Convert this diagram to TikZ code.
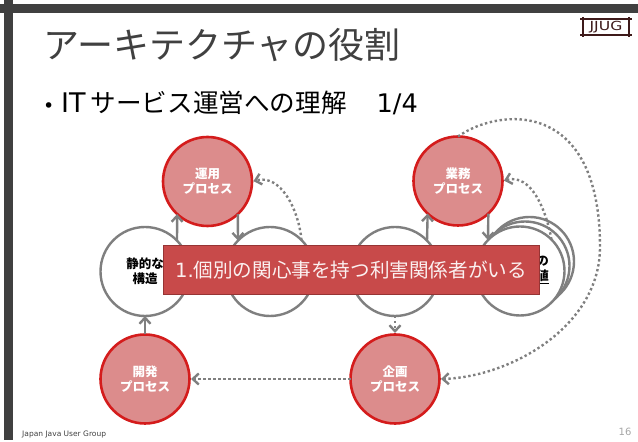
\documentclass[tikz,border=0pt]{standalone}
\usepackage{fontspec}
\setmainfont{Noto Sans CJK JP}
\newfontfamily\latinfont{DejaVu Sans}
\usetikzlibrary{arrows.meta}
\definecolor{framegray}{HTML}{404040}
\definecolor{linegray}{HTML}{7F7F7F}
\definecolor{procred}{HTML}{D41C1C}
\definecolor{procfill}{HTML}{DC8C8C}
\definecolor{bannerfill}{HTML}{C84A4A}
\definecolor{bannerline}{HTML}{963434}
\definecolor{logobrown}{HTML}{3E1A1A}
\tikzset{
    viewcircle/.style={circle, minimum size=89pt, inner sep=0pt, outer sep=0pt, draw=linegray, line width=2.4pt, fill=white, font=\fontsize{12.5}{15}\selectfont\bfseries, align=center},
    proccircle/.style={viewcircle, draw=procred, line width=2.6pt, fill=procfill, text=white},
    solidarrow/.style={draw=linegray, line width=2.4pt, -{Straight Barb[length=6pt,width=11pt]}},
    dotarrow/.style={solidarrow, dash pattern=on 2.4pt off 2.6pt, shorten >=1.5pt}
}

\begin{document}
\begin{tikzpicture}[x=1pt, y=1pt]
    \useasboundingbox (0, 0) rectangle (638, 442);
    % slide frame
    \fill[framegray] (0, 429) rectangle (638, 438);
    \fill[framegray] (4, 2) rectangle (13, 442);
    \node[anchor=west, text=framegray, font=\fontsize{36}{36}\selectfont, inner sep=0pt] (title) at (43, 397) {アーキテクチャの役割};
    \node[anchor=west, text=black, font=\fontsize{25.6}{25.6}\selectfont, inner sep=0pt] (bullet) at (43, 339) {{\latinfont\fontsize{19}{19}\selectfont •\hspace{6.8pt}\fontsize{27}{27}\selectfont IT\hspace{5pt}}サービス運営への理解{\latinfont\hspace{30pt}1/4}};
    \node[anchor=west, text=framegray, font=\latinfont\fontsize{7.5}{9}\selectfont, inner sep=0pt] (footer) at (22, 8) {Japan Java User Group};
    \node[text=linegray!70, font=\latinfont\fontsize{10}{12}\selectfont, inner sep=0pt] (pageno) at (625, 10) {16};

    % logo
    \begin{scope}[draw=logobrown, line width=1.2pt]
        \node[text=logobrown, font=\latinfont\fontsize{12.5}{14}\selectfont, xscale=1.25, inner sep=0pt] (logo) at (606, 415) {JJUG};
        \draw (580, 423) -- (632, 423);
        \draw (580, 407) -- (632, 407);
        \draw (583, 425) -- (583, 405);
        \draw (629, 425) -- (629, 405);
    \end{scope}

    % views
    \node[viewcircle] (static) at (145, 170.5) {静的な\\構造};
    \node[viewcircle] (dynamic) at (270, 170.5) {};
    \node[viewcircle] (third) at (395, 170.5) {};
    \node[viewcircle] (backb) at (529.5, 180.5) {};
    \node[viewcircle] (backa) at (525, 176) {};
    \node[viewcircle] (value) at (520, 171) {};
    \node[font=\fontsize{12.5}{15}\selectfont\bfseries, align=center, inner sep=0pt] (valuetext) at (542.5, 172.5) {の\\\underline{値}};

    % processes
    \node[proccircle] (unyo) at (207.5, 260.5) {運用\\プロセス};
    \node[proccircle] (gyomu) at (458, 261) {業務\\プロセス};
    \node[proccircle] (kaihatsu) at (145, 63) {開発\\プロセス};
    \node[proccircle] (kikaku) at (395, 63) {企画\\プロセス};
    \coordinate (farright) at (600, 195);

    \draw[solidarrow] (static.44) -- (unyo.227);
    \draw[solidarrow] (unyo.313) -- (dynamic.136);
    \draw[solidarrow] (third.44) -- (gyomu.227);
    \draw[solidarrow] (gyomu.313) -- (value.136);
    \draw[solidarrow] (kaihatsu.north) -- (static.south);
    \draw[dotarrow] (dynamic.45) to[out=95, in=15] (unyo.east);
    \draw[dotarrow] (value.45) to[out=100, in=15] (gyomu.east);
    \draw[dotarrow] (third.south) -- (kikaku.north);
    \draw[dotarrow] (kikaku.west) -- (kaihatsu.east);
    \draw[dotarrow] (gyomu.north) .. controls (500, 335) and (600, 343) .. (farright) .. controls (600, 115) and (510, 65) .. (kikaku.east);

    % banner
    \node[draw=bannerline, fill=bannerfill, line width=1pt, text=white!92!bannerfill, minimum width=376pt, minimum height=49pt, inner sep=0pt, font=\fontsize{19.6}{22}\selectfont] (banner) at (351, 171.5) {{\latinfont 1.}個別の関心事を持つ利害関係者がいる};
\end{tikzpicture}
\end{document}
